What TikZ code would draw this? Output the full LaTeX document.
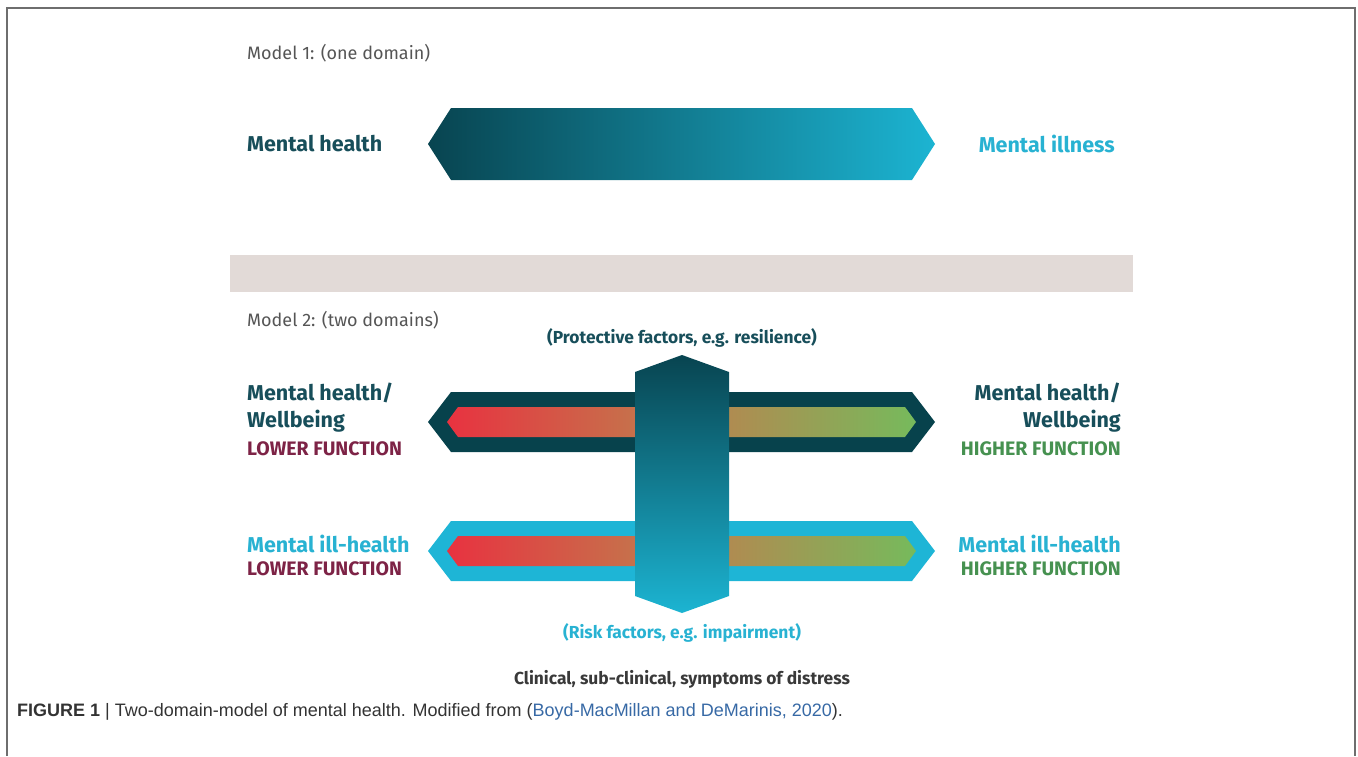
\documentclass[tikz,border=0pt]{standalone}
\usepackage{fontspec}
\setmainfont{Fira Sans}
\newfontfamily\capfont{Liberation Sans}
\definecolor{tealtxt}{RGB}{23,78,90}
\definecolor{cyantxt}{RGB}{40,178,210}
\definecolor{maroontxt}{RGB}{125,35,70}
\definecolor{greentxt}{RGB}{70,145,80}
\definecolor{darkhex}{RGB}{7,66,76}
\definecolor{cyanhex}{RGB}{30,181,214}
\definecolor{bandgray}{RGB}{226,218,215}
\definecolor{modelgray}{RGB}{85,85,85}
\definecolor{framegray}{RGB}{110,110,110}
\definecolor{gradL}{RGB}{8,68,80}
\definecolor{gradR}{RGB}{28,180,210}
\definecolor{rgRed}{RGB}{232,50,64}
\definecolor{rgMid}{RGB}{190,128,78}
\definecolor{rgGreen}{RGB}{118,186,92}
\definecolor{citeblue}{RGB}{55,105,165}
\pgfdeclarehorizontalshading{redgreen}{100bp}{color(0bp)=(rgRed); color(25bp)=(rgRed); color(50bp)=(rgMid); color(75bp)=(rgGreen); color(100bp)=(rgGreen)}
\tikzset{
  head/.style={font=\fontsize{21.5}{25}\selectfont\bfseries, inner sep=0pt},
  func/.style={font=\fontsize{19.5}{23}\selectfont\bfseries, inner sep=0pt},
  model/.style={font=\fontsize{18}{21}\selectfont, text=modelgray, inner sep=0pt, anchor=west},
  factor/.style={font=\fontsize{17.4}{20}\selectfont\bfseries, inner sep=0pt},
}
\begin{document}
\begin{tikzpicture}[x=1pt,y=-1pt]
\useasboundingbox (0,0) rectangle (1358,756);
% frame
\draw[framegray, line width=2] (7,756) -- (7,8) -- (1355,8) -- (1355,756);
% Model 1
\node[model] (m1) at (247,53) {Model 1: (one domain)};
\shade[left color=gradL, right color=gradR] (428,144) -- (451,108) -- (912,108) -- (935,144) -- (912,180) -- (451,180) -- cycle;
\node[head, text=tealtxt, anchor=west] (mh) at (247,144) {Mental health};
\node[head, text=cyantxt, anchor=east] (mi) at (1115,144) {Mental illness};
% band
\fill[bandgray] (230,255) rectangle (1133,292);
% Model 2
\node[model] (m2) at (247,320) {Model 2: (two domains)};
\node[factor, text=tealtxt] (prot) at (682,338) {(Protective factors, e.g. resilience)};
% upper bar
\fill[darkhex] (428,422) -- (451,392) -- (912,392) -- (935,422) -- (912,452) -- (451,452) -- cycle;
\shade[shading=redgreen] (447,422) -- (458,407) -- (905,407) -- (916,422) -- (905,437) -- (458,437) -- cycle;
% lower bar
\fill[cyanhex] (428,551) -- (451,521) -- (912,521) -- (935,551) -- (912,581) -- (451,581) -- cycle;
\shade[shading=redgreen] (447,551) -- (458,536) -- (905,536) -- (916,551) -- (905,566) -- (458,566) -- cycle;
% vertical bar
\shade[top color=gradL, bottom color=gradR] (682,355) -- (729,372) -- (729,596) -- (682,613) -- (635,596) -- (635,372) -- cycle;
% left labels
\node[head, text=tealtxt, anchor=west] (lw1) at (247,393) {Mental health/};
\node[head, text=tealtxt, anchor=west] (lw2) at (247,421) {Wellbeing};
\node[func, text=maroontxt, anchor=west] (lw3) at (247,449) {LOWER FUNCTION};
\node[head, text=tealtxt, anchor=east] (rw1) at (1121,393) {Mental health/};
\node[head, text=tealtxt, anchor=east] (rw2) at (1121,421) {Wellbeing};
\node[func, text=greentxt, anchor=east] (rw3) at (1121,449) {HIGHER FUNCTION};
\node[head, text=cyantxt, anchor=west] (li1) at (247,544) {Mental ill-health};
\node[func, text=maroontxt, anchor=west] (li2) at (247,569) {LOWER FUNCTION};
\node[head, text=cyantxt, anchor=east] (ri1) at (1121,544) {Mental ill-health};
\node[func, text=greentxt, anchor=east] (ri2) at (1121,569) {HIGHER FUNCTION};
\node[factor, text=cyantxt] (risk) at (682,633) {(Risk factors, e.g. impairment)};
\node[factor, text=darkgray!90!black] (clin) at (682,679) {Clinical, sub-clinical, symptoms of distress};
% caption
\node[anchor=west, inner sep=0pt, font=\capfont\fontsize{18}{21}\selectfont, text=black!80] (cap) at (17,712)
  {\textbf{FIGURE 1} | Two-domain-model of mental health. Modified from (\textcolor{citeblue}{Boyd-MacMillan and DeMarinis, 2020}).};
\end{tikzpicture}
\end{document}
